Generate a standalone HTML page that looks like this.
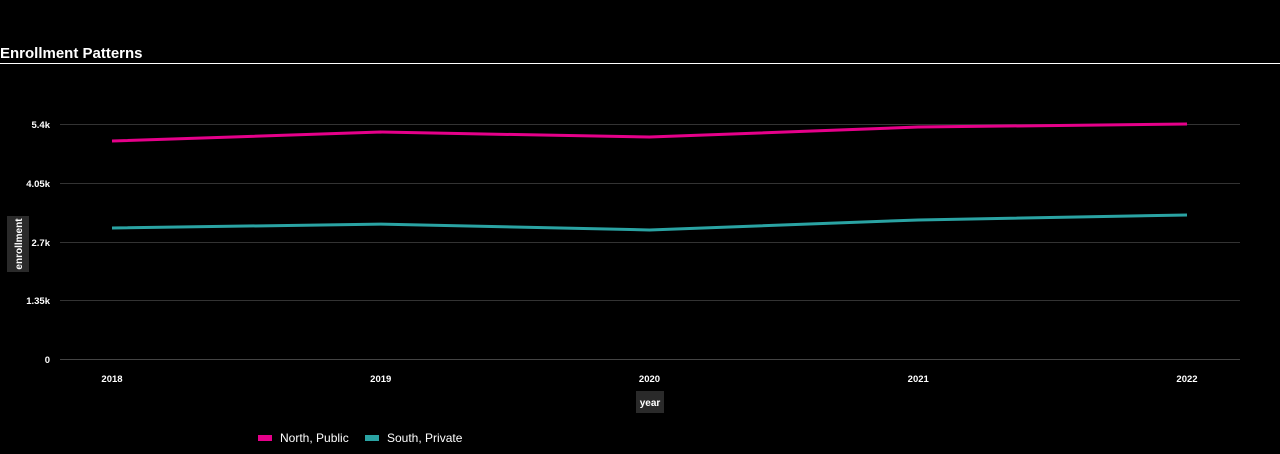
<!DOCTYPE html>
<html><head><meta charset="utf-8"><style>
html,body{margin:0;padding:0;background:#000;width:1280px;height:454px;overflow:hidden;font-family:"Liberation Sans",sans-serif}
</style></head><body>
<svg width="1280" height="454" xmlns="http://www.w3.org/2000/svg">
<text x="0" y="58" fill="#fff" font-size="15" font-weight="bold">Enrollment Patterns</text>
<line x1="0" y1="63.5" x2="1280" y2="63.5" stroke="#fff" stroke-width="1"/>
<g id="grid"></g><g id="lines"></g>
<rect x="7" y="216" width="22" height="56" fill="#2a2a2a"/>
<text transform="translate(22,244) rotate(-90)" text-anchor="middle" fill="#fff" font-size="10" font-weight="bold">enrollment</text>
<rect x="636" y="391" width="28" height="22" fill="#2a2a2a"/>
<text x="650" y="406" text-anchor="middle" fill="#fff" font-size="10" font-weight="bold">year</text>
<g>
<rect x="258" y="435" width="14" height="6" fill="#e6008a"/>
<text x="280" y="442" fill="#fff" font-size="12">North, Public</text>
<rect x="365" y="435" width="14" height="6" fill="#2aa3a3"/>
<text x="387" y="442" fill="#fff" font-size="12">South, Private</text>
</g>
</svg>
<script>
const years=["2018","2019","2020","2021","2022"];
const northPublic=[5010,5215,5100,5330,5400];
const southPrivate=[3010,3100,2965,3195,3310];
const yTicks=[0,1350,2700,4050,5400];
const yTickLabels=["0","1.35k","2.7k","4.05k","5.4k"];
const NS="http://www.w3.org/2000/svg";
const x0=112,x1=1187,yb=359,yt=124,ymax=5400;
const xs=i=>x0+(x1-x0)*i/(years.length-1);
const ys=v=>yb-(yb-yt)*v/ymax;
const grid=document.getElementById('grid'),lines=document.getElementById('lines');
function mk(t,a,p){const e=document.createElementNS(NS,t);for(const k in a)e.setAttribute(k,a[k]);p.appendChild(e);return e;}
yTicks.forEach((v,i)=>{
 const y=Math.round(ys(v))+0.5;
 const l=mk('line',{x1:60,x2:1240,y1:y,y2:y,stroke:i==0?'#444':'#333','stroke-width':1},grid);
 
 
 const t=mk('text',{x:50,y:y+3.5,'text-anchor':'end',fill:'#fff','font-size':9.5,'font-weight':'bold'},grid);
 t.textContent=yTickLabels[i];
 
 
});
years.forEach((yr,i)=>{
 const t=mk('text',{x:xs(i),y:382,'text-anchor':'middle',fill:'#fff','font-size':9.5,'font-weight':'bold'},grid);
 t.textContent=yr;
 
 
});
[[northPublic,'#e6008a','line-north-public'],[southPrivate,'#2aa3a3','line-south-private']].forEach(([d,c,n])=>{
 const p=mk('polyline',{points:d.map((v,i)=>xs(i)+','+ys(v)).join(' '),fill:'none',stroke:c,'stroke-width':3,'stroke-linejoin':'round'},lines);
 
 
});
</script>
</body></html>
